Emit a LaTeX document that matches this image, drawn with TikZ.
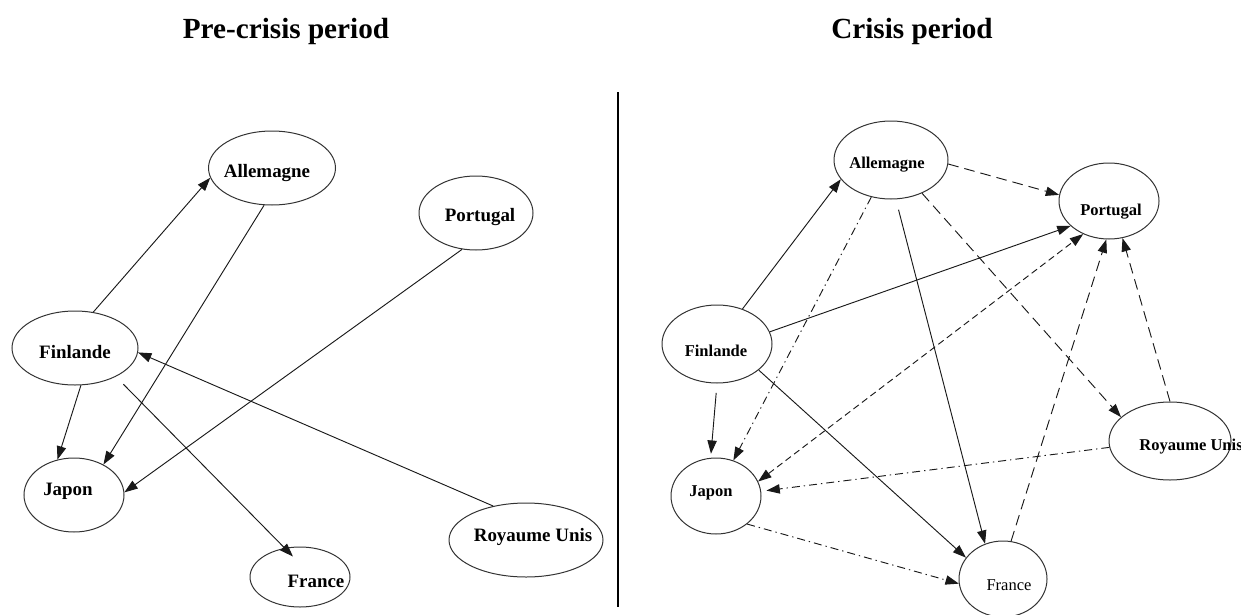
\documentclass[tikz,border=0pt]{standalone}
\usepackage{fontspec}
\setmainfont{Liberation Serif}
\usepackage{tikz}
\usetikzlibrary{positioning}
\usetikzlibrary{shapes}
\usetikzlibrary{arrows.meta}

\tikzset{
  land/.style 2 args={ellipse, draw=black!80, line width=0.75pt, inner sep=0pt,
    minimum width=#1*0.75pt, minimum height=#2*0.75pt},
  oldname/.style={anchor=base, font=\bfseries\fontsize{14.2}{16}\selectfont},
  newname/.style={anchor=base, font=\bfseries\fontsize{12.4}{14}\selectfont},
  heading/.style={anchor=base, font=\bfseries\fontsize{21.9}{26}\selectfont},
  dashlink/.style={->, dash pattern=on 8pt off 4.5pt},
  shortlink/.style={->, dash pattern=on 5pt off 3pt},
  dotlink/.style={->, dash pattern=on 6pt off 3pt on 1pt off 3pt},
}

\begin{document}
\begin{tikzpicture}[x=0.75pt, y=-0.75pt, line width=0.7pt, draw=black!90,
  >={Triangle[length=10pt,width=7pt]}]
\useasboundingbox (0,0) rectangle (1241,614);

\node[heading] (pre) at (286,38) {Pre-crisis period};
\node[heading] (cri) at (912,38) {Crisis period};
\coordinate (septop) at (618,92);
\coordinate (sepbot) at (618,607);
\draw[line width=0.8pt, black] (septop) -- (sepbot);

% pre-crisis
\node[land={127}{74}] (al) at (272,168) {};
\node[land={114}{74}] (po) at (476,213) {};
\node[land={126}{74}] (fi) at (75,348) {};
\node[land={100}{74}] (ja) at (74,495) {};
\node[land={100}{60}] (fr) at (300,577) {};
\node[land={154}{74}] (ru) at (526,540) {};
\node[oldname] (alt) at (267,177) {Allemagne};
\node[oldname] (pot) at (480,221) {Portugal};
\node[oldname] (fit) at (75,358) {Finlande};
\node[oldname] (jat) at (68,495) {Japon};
\node[oldname] (frt) at (316,587) {France};
\node[oldname] (rut) at (533,541) {Royaume Unis};

\draw[->] (fi.63) -- (al.189);
\draw[->] (al.258) -- (ja.46);
\draw[->] (po.249) -- (ja.3);
\draw[->] (ru.134) -- (fi.356);
\draw[->] (fi.279) -- (ja.115);
\draw[->, shorten <=8pt, shorten >=-9pt] (fi.-35) -- (fr.118);

% crisis
\node[land={114}{78}] (Al) at (891,160) {};
\node[land={100}{76}] (Po) at (1109,201) {};
\node[land={110}{78}] (Fi) at (717,344) {};
\node[land={90}{76}] (Ja) at (716,496) {};
\node[land={88}{76}] (Fr) at (1003,579) {};
\node[land={122}{78}] (Ru) at (1170,441) {};
\node[newname] (Alt) at (887,168) {Allemagne};
\node[newname] (Pot) at (1111,215) {Portugal};
\node[newname] (Fit) at (716,356) {Finlande};
\node[newname] (Jat) at (711,496) {Japon};
\node[newname, font=\fontsize{12.4}{14}\selectfont] (Frt) at (1009,590) {France};
\node[newname] (Rut) at (1191,450) {Royaume Unis};

\draw[->] (Fi.54) -- (Al.201);
\draw[dashlink] (Al.-4) -- (Po.173);
\draw[dotlink] (Al.242) -- (Ja.64);
\draw[->, shorten <=8pt] (Al.277) -- (Fr.117);
\draw[dashlink] (Al.313) -- (Ru.154);
\draw[->] (Fi.13) -- (Po.213);
\draw[shortlink, <->] (Ja.19) -- (Po.232);
\draw[dashlink] (Fr.78) -- (Po.266);
\draw[dashlink] (Ru.90) -- (Po.290);
\draw[->, shorten <=7pt, shorten >=3pt] (Fi.270) -- (Ja.98);
\draw[->] (Fi.328) -- (Fr.150);
\draw[dotlink, shorten >=4pt] (Ru.186) -- (Ja.6);
\draw[dotlink] (Ja.318) -- (Fr.186);
\end{tikzpicture}
\end{document}
